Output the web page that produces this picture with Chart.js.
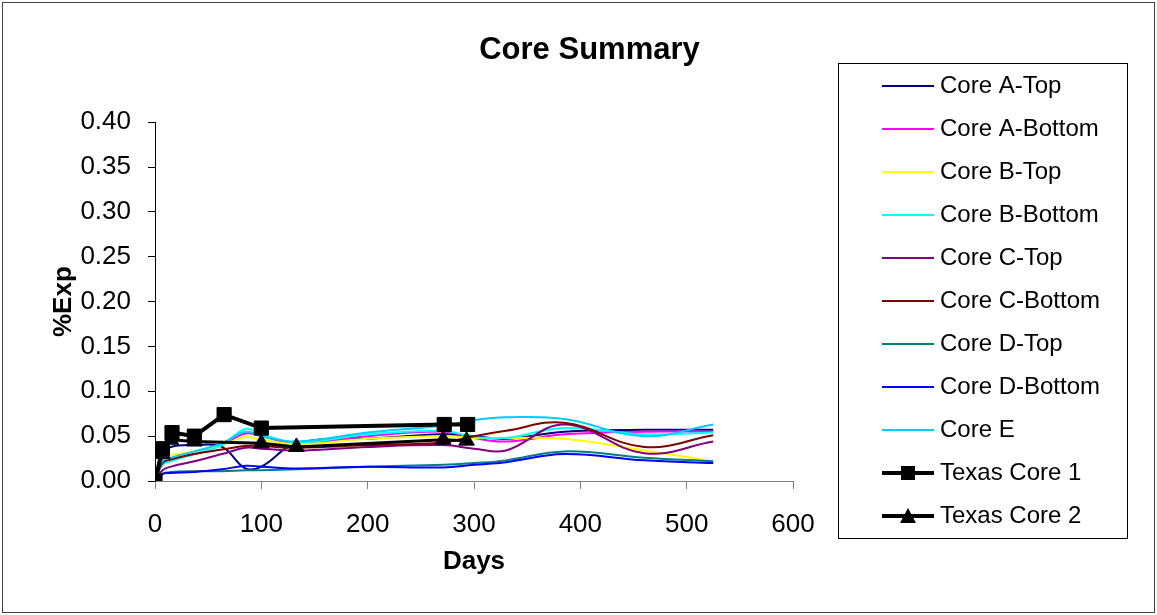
<!DOCTYPE html>
<html>
<head>
<meta charset="utf-8">
<title>Core Summary</title>
<script src="https://cdn.jsdelivr.net/npm/chart.js@4.4.1/dist/chart.umd.min.js"></script>
<style>
  html, body { margin: 0; padding: 0; background: #fff; }
  canvas { display: block; }
</style>
</head>
<body>
<canvas id="coreChart" width="1157" height="615"></canvas>
<script>
// axis ticks
const dayTicks = [0, 100, 200, 300, 400, 500, 600];
const expTicks = [0, 0.05, 0.10, 0.15, 0.20, 0.25, 0.30, 0.35, 0.40];

// sampling days shared by the lab cores
const coreDays = [0, 7, 15, 37, 63, 85, 100, 133, 200, 271, 300, 330, 385, 460, 525];

const coreATop    = [0, 0.030, 0.038, 0.040, 0.038, 0.014, 0.016, 0.042, 0.047, 0.052, 0.050, 0.047, 0.055, 0.057, 0.057];
const coreABottom = [0, 0.020, 0.025, 0.030, 0.040, 0.053, 0.050, 0.042, 0.050, 0.055, 0.048, 0.044, 0.052, 0.055, 0.055];
const coreBTop    = [0, 0.025, 0.029, 0.033, 0.040, 0.049, 0.046, 0.041, 0.047, 0.050, 0.048, 0.048, 0.047, 0.034, 0.022];
const coreBBottom = [0, 0.018, 0.022, 0.030, 0.040, 0.058, 0.052, 0.043, 0.052, 0.056, 0.049, 0.048, 0.059, 0.052, 0.054];
const coreCTop    = [0, 0.012, 0.016, 0.022, 0.030, 0.037, 0.036, 0.034, 0.038, 0.040, 0.036, 0.034, 0.063, 0.031, 0.044];
const coreCBottom = [0, 0.020, 0.024, 0.030, 0.035, 0.039, 0.039, 0.037, 0.040, 0.043, 0.050, 0.056, 0.065, 0.038, 0.051];
const coreDTop    = [0, 0.008, 0.010, 0.011, 0.011, 0.012, 0.012, 0.013, 0.016, 0.018, 0.020, 0.023, 0.033, 0.026, 0.022];
const coreDBottom = [0, 0.008, 0.009, 0.010, 0.013, 0.017, 0.016, 0.014, 0.016, 0.015, 0.018, 0.021, 0.030, 0.023, 0.020];
const coreE       = [0, 0.022, 0.026, 0.033, 0.042, 0.055, 0.050, 0.044, 0.054, 0.062, 0.068, 0.071, 0.069, 0.050, 0.063];

// field cores
const texas1Days = [0, 7, 16, 37, 65, 100, 272, 294];
const texas1Exp  = [0, 0.036, 0.054, 0.050, 0.074, 0.059, 0.063, 0.063];
const texas2Days = [0, 7, 15, 37, 100, 133, 271, 293];
const texas2Exp  = [0, 0.030, 0.046, 0.044, 0.042, 0.038, 0.046, 0.045];

const FONT = 'Liberation Sans, Arial, sans-serif';

function toXY(days, vals) {
  return days.map((d, i) => ({ x: d, y: vals[i] }));
}

// little line (+ marker) swatch used as the legend symbol
function legendSample(color, width, marker) {
  const c = document.createElement('canvas');
  c.width = 128;
  c.height = 20;
  const g = c.getContext('2d');
  g.strokeStyle = color;
  g.lineWidth = width;
  g.beginPath();
  g.moveTo(76, 10);
  g.lineTo(128, 10);
  g.stroke();
  g.fillStyle = color;
  if (marker === 'rect') {
    g.fillRect(95, 3, 14, 14);
  } else if (marker === 'triangle') {
    g.beginPath();
    g.moveTo(102, 2);
    g.lineTo(110, 17);
    g.lineTo(94, 17);
    g.closePath();
    g.fill();
  }
  return c;
}

function coreLine(label, vals, color) {
  return {
    label: label,
    data: toXY(coreDays, vals),
    borderColor: color,
    backgroundColor: color,
    borderWidth: 2,
    pointRadius: 0,
    tension: 0.4,
    sample: legendSample(color, 2, null)
  };
}

const datasets = [
  coreLine('Core A-Top', coreATop, '#000080'),
  coreLine('Core A-Bottom', coreABottom, '#FF00FF'),
  coreLine('Core B-Top', coreBTop, '#FFFF00'),
  coreLine('Core B-Bottom', coreBBottom, '#00FFFF'),
  coreLine('Core C-Top', coreCTop, '#800080'),
  coreLine('Core C-Bottom', coreCBottom, '#800000'),
  coreLine('Core D-Top', coreDTop, '#008080'),
  coreLine('Core D-Bottom', coreDBottom, '#0000FF'),
  coreLine('Core E', coreE, '#00CCFF'),
  {
    label: 'Texas Core 1',
    data: toXY(texas1Days, texas1Exp),
    borderColor: '#000',
    backgroundColor: '#000',
    borderWidth: 4,
    pointStyle: 'rect',
    pointRadius: 10,
    pointBorderWidth: 1,
    tension: 0,
    sample: legendSample('#000', 4, 'rect')
  },
  {
    label: 'Texas Core 2',
    data: toXY(texas2Days, texas2Exp),
    borderColor: '#000',
    backgroundColor: '#000',
    borderWidth: 3,
    pointStyle: 'triangle',
    pointRadius: 9,
    pointBorderWidth: 1,
    tension: 0,
    sample: legendSample('#000', 4, 'triangle')
  }
];

// later series sit on top, as in the spreadsheet
datasets.forEach((ds, i) => {
  ds.showLine = true;
  ds.order = datasets.length - i;
});

const chartFrame = {
  id: 'chartFrame',
  beforeDraw(chart) {
    const ctx = chart.ctx;
    ctx.save();
    ctx.fillStyle = '#fff';
    ctx.fillRect(0, 0, chart.width, chart.height);
    ctx.restore();
  },
  afterDraw(chart) {
    const ctx = chart.ctx;
    ctx.save();
    ctx.strokeStyle = '#404040';
    ctx.lineWidth = 1;
    ctx.strokeRect(2.5, 2.5, chart.width - 5, chart.height - 5);

    // box round the legend
    const boxes = chart.legend.legendHitBoxes;
    if (boxes && boxes.length) {
      const first = boxes[0];
      const last = boxes[boxes.length - 1];
      const left = Math.round(first.left + 26) + 0.5;
      const top = Math.round(first.top - 11) + 0.5;
      const bottom = Math.round(last.top + last.height + 10) + 0.5;
      const right = Math.round(chart.legend.right + 27) + 0.5;
      ctx.strokeStyle = '#000';
      ctx.strokeRect(left, top, right - left, bottom - top);
    }
    ctx.restore();
  }
};

const ctx = document.getElementById('coreChart').getContext('2d');
const coreChart = new Chart(ctx, {
  type: 'scatter',
  data: { datasets: datasets },
  plugins: [chartFrame],
  options: {
    responsive: false,
    animation: false,
    layout: { padding: { left: 79, right: 57, top: 0, bottom: 0 } },
    plugins: {
      title: {
        display: true,
        text: 'Core Summary',
        color: '#000',
        font: { family: FONT, size: 31, weight: 'bold', lineHeight: 1.2 },
        padding: { top: 32, bottom: -14 }
      },
      // empty spacer above the plot only (not above the legend)
      subtitle: {
        display: true,
        text: '',
        fullSize: false,
        font: { family: FONT, size: 10, lineHeight: 1 },
        padding: { top: 0, bottom: 57 }
      },
      legend: {
        position: 'right',
        align: 'start',
        fullSize: true,
        maxWidth: 307,
        // blank legend title pushes the first entry down
        title: {
          display: true,
          text: '',
          font: { family: FONT, size: 10, lineHeight: 1 },
          padding: { top: 0, bottom: 45 }
        },
        labels: {
          usePointStyle: true,
          pointStyleWidth: 116,
          padding: 19,
          color: '#000',
          font: { family: FONT, size: 24 },
          sort: (a, b) => a.datasetIndex - b.datasetIndex,
          generateLabels: (chart) => {
            const items = Chart.defaults.plugins.legend.labels.generateLabels(chart);
            items.forEach(it => {
              it.pointStyle = chart.data.datasets[it.datasetIndex].sample;
            });
            return items;
          }
        }
      },
      tooltip: { enabled: false }
    },
    scales: {
      x: {
        type: 'linear',
        min: dayTicks[0],
        max: dayTicks[dayTicks.length - 1],
        afterFit: (s) => { s.height = 134; },
        ticks: {
          stepSize: dayTicks[1] - dayTicks[0],
          color: '#000',
          padding: 20,
          maxRotation: 0,
          font: { family: FONT, size: 26 }
        },
        grid: { drawOnChartArea: false, color: '#808080', tickLength: 8 },
        border: { color: '#808080', width: 1 },
        title: {
          display: true,
          text: 'Days',
          color: '#000',
          font: { family: FONT, size: 26, weight: 'bold', lineHeight: 1.2 },
          padding: { top: 0, bottom: 38 }
        }
      },
      y: {
        type: 'linear',
        min: expTicks[0],
        max: expTicks[expTicks.length - 1],
        afterFit: (s) => { s.width = 76; },
        ticks: {
          stepSize: expTicks[1] - expTicks[0],
          color: '#000',
          padding: 17,
          font: { family: FONT, size: 26 },
          callback: (v) => v.toFixed(2)
        },
        grid: { drawOnChartArea: false, color: '#000', tickLength: 7 },
        border: { color: '#000', width: 1 },
        title: {
          display: true,
          text: '%Exp',
          color: '#000',
          font: { family: FONT, size: 26, weight: 'bold', lineHeight: 1.2 },
          padding: { top: -31, bottom: 0 }
        }
      }
    }
  }
});
</script>
</body>
</html>
